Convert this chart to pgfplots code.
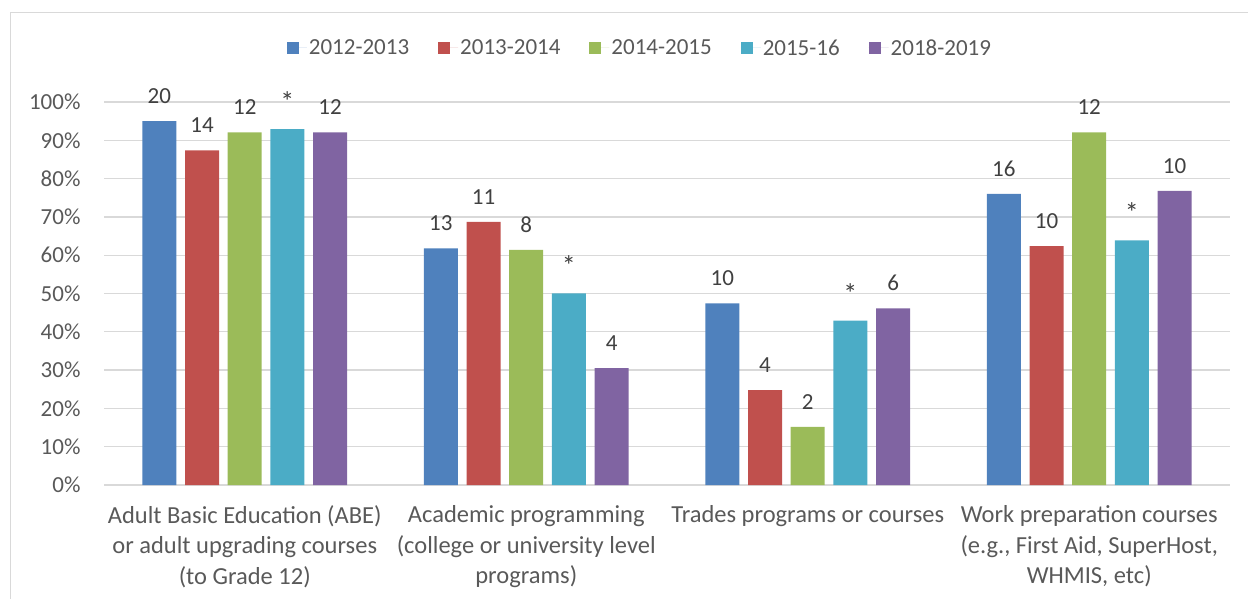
\documentclass[border=0pt]{standalone}
\usepackage{fontspec}
\setmainfont{Carlito}
\usepackage{pgfplots}
\pgfplotsset{compat=1.18}
\definecolor{cblue}{HTML}{4F81BD}
\definecolor{cred}{HTML}{C0504D}
\definecolor{cgreen}{HTML}{9BBB59}
\definecolor{cteal}{HTML}{4BACC6}
\definecolor{cpurple}{HTML}{8064A2}
\definecolor{txt}{HTML}{595959}
\definecolor{lbl}{HTML}{404040}
\definecolor{gridc}{HTML}{D9D9D9}
\newcommand{\st}{{\fontsize{28bp}{26bp}\selectfont *}}
\begin{document}
\begin{tikzpicture}
\path[use as bounding box] (0,0) rectangle (1248bp,599bp);
\begin{axis}[
    at={(104bp,114bp)}, anchor=south west,
    scale only axis, width=1126bp, height=383bp,
    ybar=8.7bp, bar width=34bp,
    xmin=-0.5, xmax=3.5, ymin=0, ymax=100,
    axis line style={draw=none},
    major tick length=0pt,
    ymajorgrids, major grid style={draw=gridc, line width=1.3bp},
    ytick={0,10,...,100},
    yticklabels={0\%,10\%,20\%,30\%,40\%,50\%,60\%,70\%,80\%,90\%,100\%},
    yticklabel style={font=\fontsize{23bp}{26bp}\selectfont, text=txt, xshift=-20bp},
    xtick={0,1,2,3},
    xticklabels={{Adult Basic Education (ABE)\\or adult upgrading courses\\(to Grade 12)},
                 {Academic programming\\(college or university level\\programs)},
                 {Trades programs or courses},
                 {Work preparation courses\\(e.g., First Aid, SuperHost,\\WHMIS, etc)}},
    xticklabel style={font=\fontsize{24.5bp}{30.5bp}\selectfont, text=txt, align=center, anchor=north, yshift=-17bp},
    /pgf/number format/assume math mode=true,
    nodes near coords, point meta=explicit symbolic,
    every node near coord/.append style={font=\fontsize{23bp}{26bp}\selectfont, text=lbl, yshift=14bp},
    every axis plot post/.append style={legend image code/.code={\fill[##1, draw=none] (0bp,-6bp) rectangle (12bp,6bp); \path (0bp,0bp) -- (20bp,0bp);}},
    legend columns=5,
    legend style={draw=none, fill=none, at={(0.476,1.141)}, anchor=center,
        font=\fontsize{23bp}{26bp}\selectfont, text=txt,
        /tikz/every even column/.append style={column sep=27bp}},
]
\addplot[fill=cblue, draw=none] coordinates {(0,95.0) [20] (1,61.8) [13] (2,47.4) [10] (3,76.0) [16]};
\addlegendentry{2012-2013}
\addplot[fill=cred, draw=none] coordinates {(0,87.4) [14] (1,68.7) [11] (2,24.8) [4] (3,62.4) [10]};
\addlegendentry{2013-2014}
\addplot[fill=cgreen, draw=none] coordinates {(0,92.1) [12] (1,61.4) [8] (2,15.2) [2] (3,92.1) [12]};
\addlegendentry{2014-2015}
\addplot[fill=cteal, draw=none] coordinates {(0,92.9) [\st] (1,50.0) [\st] (2,42.9) [\st] (3,63.9) [\st]};
\addlegendentry{2015-16}
\addplot[fill=cpurple, draw=none] coordinates {(0,92.1) [12] (1,30.5) [4] (2,46.1) [6] (3,76.8) [10]};
\addlegendentry{2018-2019}
\end{axis}
\draw[gridc, line width=1.3bp] (10.5bp,0) |- (1248bp,586.5bp);
\end{tikzpicture}
\end{document}
